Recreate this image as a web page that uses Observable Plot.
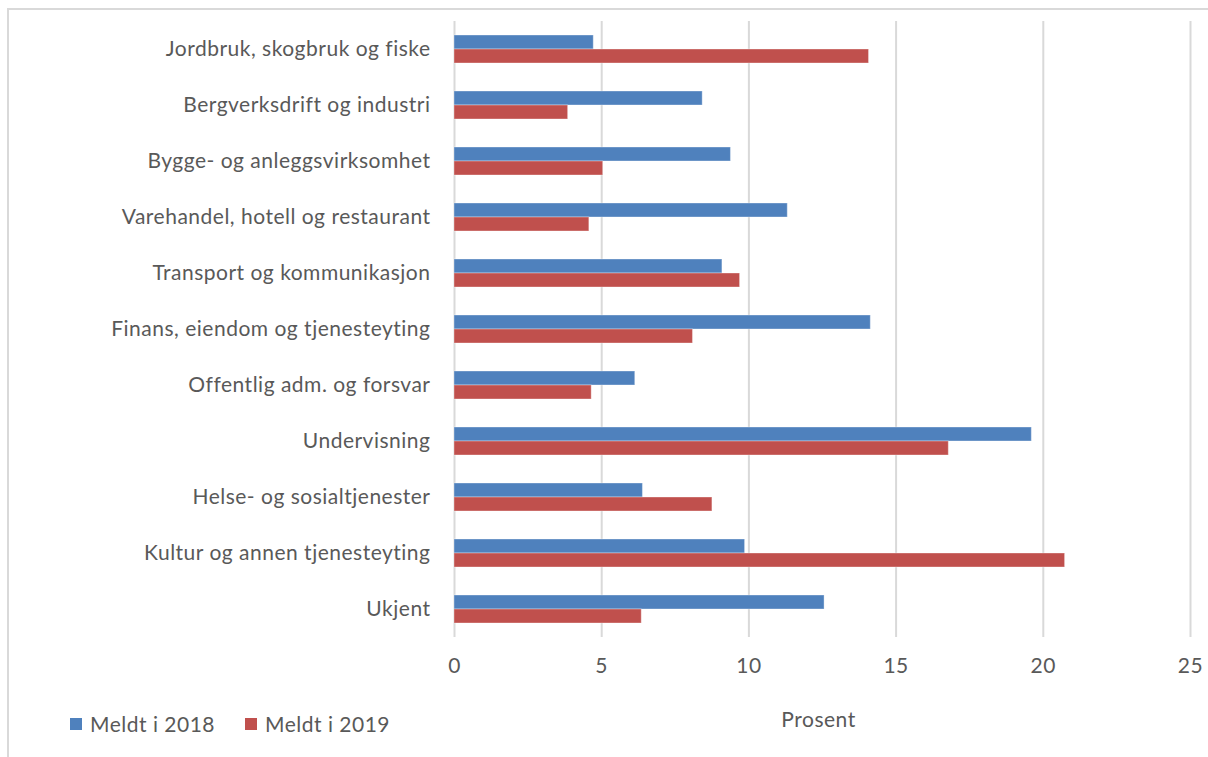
<!DOCTYPE html>
<html>
<head>
<meta charset="utf-8">
<script src="https://cdn.jsdelivr.net/npm/d3@7"></script>
<script src="https://cdn.jsdelivr.net/npm/@observablehq/plot@0.6"></script>
<style>
  html, body { margin: 0; padding: 0; background: #fff; overflow: hidden; }
  #wrap { position: relative; width: 1208px; height: 757px; }
  #frame { position: absolute; left: 7px; top: 8px; width: 1400px; height: 900px; border: 2px solid #d9d9d9; box-sizing: border-box; pointer-events: none; }
  #chart { position: absolute; left: 0; top: 0; }
  #legend { position: absolute; left: 70px; top: 711px; font: 21px Lato, sans-serif; letter-spacing: 0.5px; color: #595959; display: flex; gap: 0; }
  .item { display: flex; align-items: center; margin-right: 30px; }
  .sw { width: 12px; height: 12px; margin-right: 8px; }
</style>
</head>
<body>
<div id="wrap">
  <div id="frame"></div>
  <div id="chart"></div>
  <div id="legend"></div>
</div>
<script>
const categories = [
  "Jordbruk, skogbruk og fiske",
  "Bergverksdrift og industri",
  "Bygge- og anleggsvirksomhet",
  "Varehandel, hotell og restaurant",
  "Transport og kommunikasjon",
  "Finans, eiendom og tjenesteyting",
  "Offentlig adm. og forsvar",
  "Undervisning",
  "Helse- og sosialtjenester",
  "Kultur og annen tjenesteyting",
  "Ukjent"
];
const seriesNames = ["Meldt i 2018", "Meldt i 2019"];
const seriesColors = ["#4f81bd", "#c0504d"];
const values2018 = [4.73, 8.43, 9.39, 11.32, 9.10, 14.14, 6.14, 19.61, 6.40, 9.87, 12.57];
const values2019 = [14.08, 3.86, 5.05, 4.58, 9.70, 8.10, 4.66, 16.79, 8.76, 20.74, 6.36];
const xTicks = [0, 5, 10, 15, 20, 25];
const xLabel = "Prosent";

const d2018 = categories.map((c, i) => ({category: c, value: values2018[i]}));
const d2019 = categories.map((c, i) => ({category: c, value: values2019[i]}));

const chart = Plot.plot({
  width: 1208,
  height: 757,
  marginLeft: 454,
  marginRight: 18,
  marginTop: 21,
  marginBottom: 120,
  style: {fontFamily: "Lato, sans-serif", fontSize: "21px", letterSpacing: "0.5px", color: "#595959", background: "transparent"},
  x: {domain: [0, 25], ticks: xTicks, label: null},
  y: {domain: categories, paddingInner: 0.5, paddingOuter: 0.25, label: null},
  marks: [
    Plot.ruleX(xTicks, {stroke: "#d9d9d9", strokeWidth: 2, strokeOpacity: 1}),
    Plot.barX(d2018, {y: "category", x: "value", fill: seriesColors[0], insetBottom: 14, stroke: "#ffffff", strokeOpacity: 0.35, strokeWidth: 1}),
    Plot.barX(d2019, {y: "category", x: "value", fill: seriesColors[1], insetTop: 14, stroke: "#ffffff", strokeOpacity: 0.35, strokeWidth: 1}),
    Plot.axisY({tickSize: 0, tickPadding: 24, fontSize: 21, fill: "#595959", label: null}),
    Plot.axisX({ticks: xTicks, tickSize: 0, tickPadding: 21, fontSize: 21, fill: "#595959", label: null}),
    Plot.text([xLabel], {frameAnchor: "bottom", dx: -4, dy: 89, fontSize: 21, fill: "#595959", text: d => d})
  ]
});
document.getElementById("chart").appendChild(chart);

const legend = document.getElementById("legend");
seriesNames.forEach((name, i) => {
  const item = document.createElement("div");
  item.className = "item";
  const sw = document.createElement("div");
  sw.className = "sw";
  sw.style.background = seriesColors[i];
  const t = document.createElement("span");
  t.textContent = name;
  item.appendChild(sw);
  item.appendChild(t);
  legend.appendChild(item);
});
</script>
</body>
</html>
